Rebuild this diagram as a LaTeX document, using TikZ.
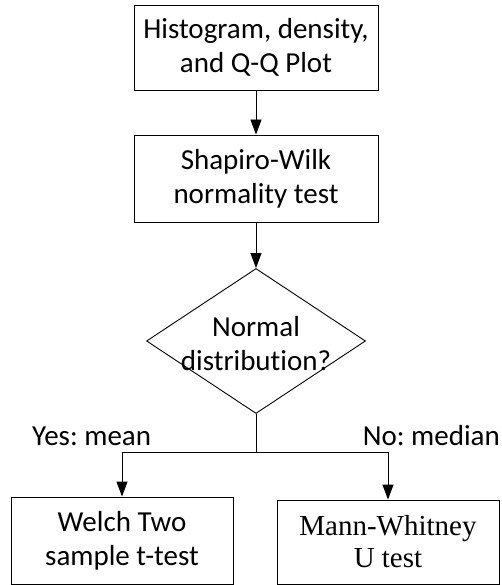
\documentclass[tikz,border=0pt]{standalone}
\usepackage{fontspec}
\setmainfont[Ligatures=NoCommon]{Carlito}
\newfontfamily\timesfont{Liberation Serif}
\usetikzlibrary{shapes.geometric,arrows.meta}
\frenchspacing

\begin{document}
\begin{tikzpicture}[x=1pt,y=-1pt,
  every node/.style={font=\fontsize{29}{34}\selectfont},
  box/.style={draw, line width=0.9pt, inner sep=0pt, align=center},
  decision/.style={draw, diamond, line width=0.9pt, inner sep=0pt,
    minimum width=219pt, minimum height=145pt},
  plain/.style={inner sep=0pt, align=center},
  link/.style={line width=0.9pt},
  arrow/.style={link, -{Triangle[length=15pt,width=11pt]}}]
\useasboundingbox (0,0) rectangle (502,585);

% process boxes
\node[box, minimum width=244pt, minimum height=85pt] (hist) at (256,47.5)
  {Histogram, density,\\and Q-Q Plot};
\node[box, minimum width=244pt, minimum height=87pt] (sw) at (256,178.5)
  {Shapiro-Wilk\\normality test};

% decision
\node[decision] (dia) at (256,341) {};
\node[plain] (diatext) at (256,344) {Normal\\distribution?};

% outcome boxes
\node[box, minimum width=222pt, minimum height=87pt] (welch) at (122,540.5)
  {Welch Two\\sample t-test};
\node[box, minimum width=222pt, minimum height=84pt,
  font=\timesfont\fontsize{29}{32}\selectfont] (mw) at (388,542)
  {Mann-Whitney\\U test};

% branch labels
\node[plain, anchor=base west] (yes) at (32,445) {Yes: mean};
\node[plain, anchor=base east] (no) at (500,445) {No: median};

% connectors
\coordinate (split) at (256,452);
\draw[arrow] (hist) -- (sw);
\draw[arrow] (sw) -- (dia.north);
\draw[link] (dia.south) -- (split);
\draw[arrow] (split) -| (welch.north);
\draw[arrow] (split) -| (mw.north);
\end{tikzpicture}
\end{document}
